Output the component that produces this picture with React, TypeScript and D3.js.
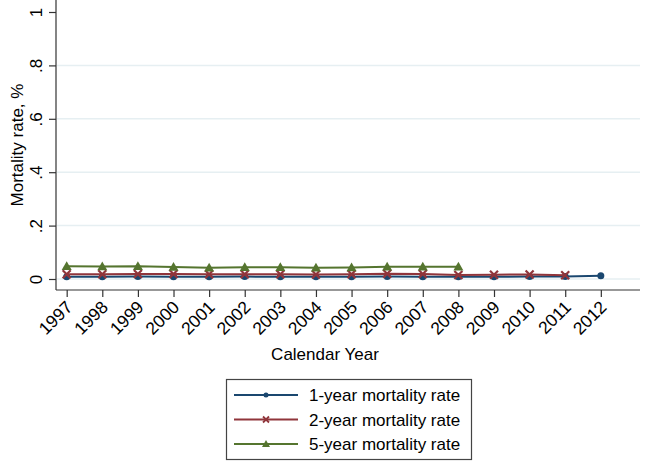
import * as d3 from "d3";
import { useEffect, useRef } from "react";

const years = [1997, 1998, 1999, 2000, 2001, 2002, 2003, 2004, 2005, 2006, 2007, 2008, 2009, 2010, 2011, 2012];
const oneYear = [0.008, 0.008, 0.009, 0.008, 0.008, 0.009, 0.008, 0.008, 0.008, 0.009, 0.008, 0.008, 0.008, 0.009, 0.009, 0.012];
const twoYear = [0.018, 0.018, 0.019, 0.019, 0.018, 0.018, 0.018, 0.017, 0.018, 0.02, 0.019, 0.015, 0.016, 0.017, 0.014];
const fiveYear = [0.048, 0.047, 0.048, 0.045, 0.042, 0.044, 0.044, 0.042, 0.043, 0.046, 0.046, 0.046];
const yTicks = [0, 0.2, 0.4, 0.6, 0.8, 1];
const yTickLabels = ["0", ".2", ".4", ".6", ".8", "1"];

const series = [
  { name: "1-year mortality rate", values: oneYear, color: "#1a476f", marker: "circle" },
  { name: "2-year mortality rate", values: twoYear, color: "#90353b", marker: "x" },
  { name: "5-year mortality rate", values: fiveYear, color: "#55752f", marker: "triangle" },
];

const App = () => {
  const ref = useRef<SVGSVGElement | null>(null);

  useEffect(() => {
    if (!ref.current) return;
    const svg = d3.select(ref.current);
    svg.selectAll("*").remove();

    const left = 56, right = 640, bottom = 290;
    const x = d3.scaleLinear().domain([1996.7, 2013.1]).range([left, right]);
    const y = d3.scaleLinear().domain([0, 1]).range([279, 12]);
    const font = "Arial, 'Liberation Sans', sans-serif";

    svg.append("rect").attr("width", 650).attr("height", 463).attr("fill", "#fff");

    // gridlines
    svg.append("g")
      .selectAll("line")
      .data(yTicks.slice(0, 5))
      .join("line")
      .attr("x1", left + 1).attr("x2", right)
      .attr("y1", d => y(d)).attr("y2", d => y(d))
      .attr("stroke", "#e6eff2").attr("stroke-width", 1.5);

    // y axis
    const yAxis = svg.append("g")
      .attr("transform", `translate(${left},0)`)
      .call(d3.axisLeft(y).tickValues(yTicks).tickFormat((_, i) => yTickLabels[i]).tickSize(7).tickSizeOuter(0));
    yAxis.select(".domain").attr("stroke", "#333").attr("stroke-width", 1.2).attr("d", `M0,0V${bottom}`);
    yAxis.selectAll(".tick line").attr("stroke", "#333").attr("stroke-width", 1.2);
    yAxis.selectAll(".tick text")
      .attr("font-family", font).attr("font-size", 17).attr("fill", "#000")
      .attr("transform", "rotate(-90)")
      .attr("x", 0).attr("y", -14).attr("dy", "0")
      .attr("text-anchor", "middle");

    // x axis
    const xAxis = svg.append("g")
      .attr("transform", `translate(0,${bottom})`)
      .call(d3.axisBottom(x).tickValues(years).tickFormat(d3.format("d")).tickSize(7).tickSizeOuter(0));
    xAxis.select(".domain").attr("stroke", "#333").attr("stroke-width", 1.2).attr("d", `M${left},0H${right}`);
    xAxis.selectAll(".tick line").attr("stroke", "#333").attr("stroke-width", 1.2);
    xAxis.selectAll(".tick text")
      .attr("font-family", font).attr("font-size", 17.5).attr("fill", "#000")
      .attr("text-anchor", "end")
      .attr("x", 0).attr("y", 0)
      .attr("dy", "0.35em")
      .attr("transform", "translate(2,14) rotate(-45)");

    // axis titles
    svg.append("text")
      .attr("transform", `translate(23,145) rotate(-90)`)
      .attr("text-anchor", "middle").attr("font-family", font).attr("font-size", 17)
      .text("Mortality rate, %");
    svg.append("text")
      .attr("x", 325).attr("y", 360)
      .attr("text-anchor", "middle").attr("font-family", font).attr("font-size", 17)
      .text("Calendar Year");

    const drawMarker = (g: d3.Selection<SVGGElement, unknown, null, undefined>, kind: string, cx: number, cy: number, color: string) => {
      if (kind === "circle") {
        g.append("circle").attr("cx", cx).attr("cy", cy).attr("r", 3.5).attr("fill", color);
      } else if (kind === "x") {
        const s = 4;
        g.append("path")
          .attr("d", `M${cx - s},${cy - s}L${cx + s},${cy + s}M${cx - s},${cy + s}L${cx + s},${cy - s}`)
          .attr("stroke", color).attr("stroke-width", 2.2);
      } else {
        const s = 5;
        g.append("path")
          .attr("d", `M${cx},${cy - s}L${cx + s},${cy + s * 0.75}L${cx - s},${cy + s * 0.75}Z`)
          .attr("fill", color);
      }
    };

    const line = d3.line<number>().x((_, i) => x(years[i])).y(d => y(d));
    series.forEach(s => {
      const g = svg.append("g");
      g.append("path").attr("d", line(s.values)).attr("fill", "none").attr("stroke", s.color).attr("stroke-width", 2);
      s.values.forEach((v, i) => drawMarker(g, s.marker, x(years[i]), y(v), s.color));
    });

    // legend
    const lg = svg.append("g");
    lg.append("rect").attr("x", 226.5).attr("y", 379.5).attr("width", 245).attr("height", 80)
      .attr("fill", "#fff").attr("stroke", "#444").attr("stroke-width", 1.2);
    series.forEach((s, i) => {
      const ly = 395 + i * 24.5;
      const g = lg.append("g");
      g.append("line").attr("x1", 234).attr("x2", 298).attr("y1", ly).attr("y2", ly)
        .attr("stroke", s.color).attr("stroke-width", 2);
      const mg = g.append("g");
      if (s.marker === "circle") mg.append("circle").attr("cx", 266).attr("cy", ly).attr("r", 2.5).attr("fill", s.color);
      else if (s.marker === "x") mg.append("path").attr("d", `M263,${ly - 3}L269,${ly + 3}M263,${ly + 3}L269,${ly - 3}`).attr("stroke", s.color).attr("stroke-width", 1.8);
      else mg.append("path").attr("d", `M266,${ly - 4}L270,${ly + 3}L262,${ly + 3}Z`).attr("fill", s.color);
      g.append("text").attr("x", 309).attr("y", ly + 6).attr("font-family", font).attr("font-size", 17)
        .text(s.name);
    });
  }, []);

  return <svg width={650} height={463} ref={ref} style={{ position: "absolute", left: 0, top: 0 }} />;
};

export default App;
